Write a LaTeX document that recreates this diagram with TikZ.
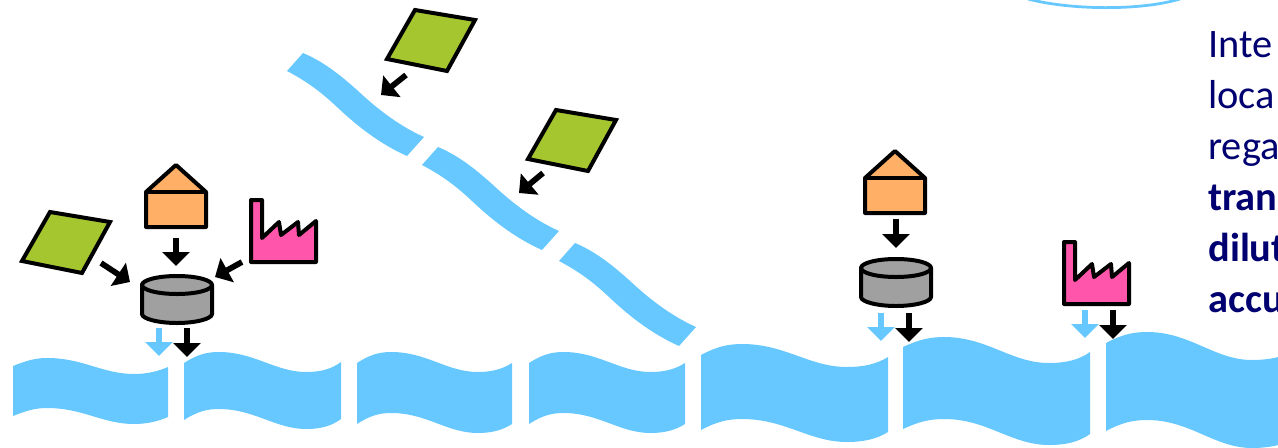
\documentclass[tikz,border=0pt]{standalone}
\usepackage{fontspec}
\setmainfont{Carlito}
\usetikzlibrary{arrows.meta}

\definecolor{riverblue}{HTML}{66C8FF}
\definecolor{landgreen}{HTML}{A6C630}
\definecolor{houseorange}{HTML}{FFB066}
\definecolor{factorypink}{HTML}{FF55AA}
\definecolor{tankgray}{HTML}{A0A0A0}
\definecolor{textnavy}{HTML}{000070}

\begin{document}
\begin{tikzpicture}[
    x=0.02cm, y=-0.02cm,
    outline/.style={draw=black, line width=0.08cm, line join=round},
    flow/.style={-{Triangle[length=0.28cm, width=0.54cm]}, line width=0.115cm, black},
    leak/.style={flow, riverblue},
    river/.style={fill=riverblue},
    bodytext/.style={
        font=\fontsize{23}{29}\selectfont, text=textnavy,
        align=left, anchor=north west, inner sep=0pt,
    },
    land/.pic={
        \draw[outline, fill=landgreen, line join=miter]
            (0,0) -- (60,10) -- (32,61) -- (-28,49) -- cycle;
    },
    house/.pic={
        \draw[outline, fill=houseorange]
            (0,0) -- (30,27) -- (30,62) -- (-30,62) -- (-30,27) -- cycle;
        \draw[outline] (-30,27) -- (30,27);
    },
    factory/.pic={
        \draw[outline, fill=factorypink]
            (0,0) -- (11,0) -- (11,38) -- (28,22) -- (30,35) -- (47,22)
            -- (48,35) -- (65,21) -- (65,62) -- (0,62) -- cycle;
    },
    tank/.pic={
        \draw[outline, fill=tankgray]
            (-35,0) -- (-35,29) .. controls (-35,34) and (-18,38) .. (0,38)
            .. controls (18,38) and (35,34) .. (35,29) -- (35,0) -- cycle;
        \draw[outline, fill=tankgray] (0,0) ellipse [x radius=35, y radius=9];
    },
]

\clip (0,0) rectangle (1278,447);

% --- Main river, x/width/left/peak/trough/right/depth ---
\foreach \x/\w/\yl/\yp/\yt/\yr/\h in {%
    13/155/366/358/374/367/50, 184/157/363/352/372/362/57,
    357/155/363/352/372/363/61, 529/156/363/352/372/363/61,
    701/187/355/344/367/357/75, 903/187/347/337/363/352/82,
    1106/187/343/332/360/352/88%
}{
    \fill[river] (\x,\yl)
        .. controls ({\x+.08*\w},{\yp+3}) and ({\x+.14*\w},\yp) .. ({\x+.22*\w},\yp)
        .. controls ({\x+.45*\w},\yp) and ({\x+.58*\w},\yt) .. ({\x+.78*\w},\yt)
        .. controls ({\x+.87*\w},\yt) and ({\x+.94*\w},{\yt-3}) .. ({\x+\w},\yr)
        -- ({\x+\w},{\yr+\h})
        .. controls ({\x+.94*\w},{\yt+\h-3}) and ({\x+.87*\w},{\yt+\h}) .. ({\x+.78*\w},{\yt+\h})
        .. controls ({\x+.58*\w},{\yt+\h}) and ({\x+.45*\w},{\yp+\h}) .. ({\x+.22*\w},{\yp+\h})
        .. controls ({\x+.14*\w},{\yp+\h}) and ({\x+.08*\w},{\yp+\h+3}) .. (\x,{\yl+\h})
        -- cycle;
}

% --- Tributary, same piece three times ---
\foreach \dx/\dy in {0/0, 135/94, 272/190}{
    \begin{scope}[shift={(\dx,\dy)}]
        \fill[river] (303,53) .. controls (322,61) and (338,73) .. (357,90)
            .. controls (372,104) and (395,124) .. (424,137) -- (407,156)
            .. controls (378,143) and (355,124) .. (337,107)
            .. controls (320,91) and (306,81) .. (287,71) -- cycle;
    \end{scope}
}

% --- Arc at the top edge ---
\draw[riverblue, line width=0.055cm] (1028,-1) .. controls (1070,10) and (1140,11) .. (1180,-1);

% --- Sources ---
\pic (land1) at (50,212) {land};
\pic (land2) at (415,10) {land};
\pic (land3) at (556,110) {land};
\pic (house1) at (176,165) {house};
\pic (house2) at (895,151) {house};
\pic (factory1) at (251,200) {factory};
\pic (factory2) at (1064,242) {factory};
\pic (tank1) at (177,285) {tank};
\pic (tank2) at (896,268) {tank};

% --- Arrow ends ---
\foreach \n/\x/\y in {%
    a1/101/263, a2/130/282, b1/176/238, b2/176/266, c1/242/262, c2/215/277,
    d1/187/328, d2/187/357, e1/159/328, e2/159/356,
    f1/896/219, f2/896/248, g1/909/313, g2/909/342, h1/881/313, h2/881/341,
    i1/1113/310, i2/1113/339, j1/1085/310, j2/1085/338,
    k1/406/75, k2/381/95, m1/543/173, m2/519/193%
}{
    \coordinate (\n) at (\x,\y);
}

% --- Arrows ---
\foreach \s/\t in {a1/a2, b1/b2, c1/c2, d1/d2, f1/f2, g1/g2, i1/i2, k1/k2, m1/m2}{
    \draw[flow] (\s) -- (\t);
}
\foreach \s/\t in {e1/e2, h1/h2, j1/j2}{
    \draw[leak] (\s) -- (\t);
}

% --- Text, cut by the right edge ---
\node[bodytext] (txt) at (1208,31)
    {Inte\\loca\\rega\\\textbf{tran}\\\textbf{dilut}\\\textbf{accu}};

\end{tikzpicture}
\end{document}
